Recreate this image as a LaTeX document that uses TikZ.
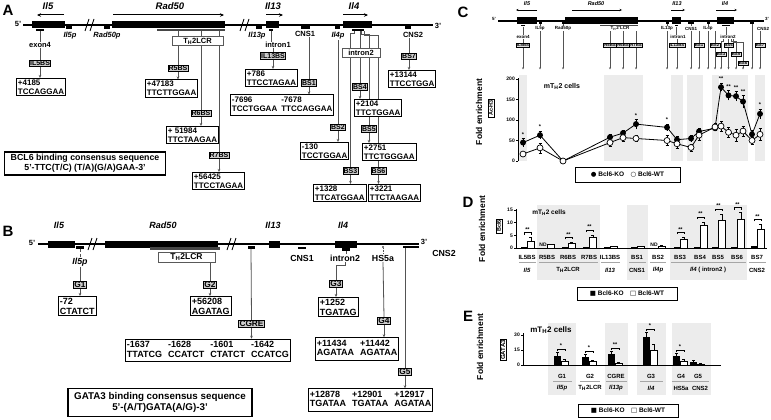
\documentclass[tikz,border=0pt]{standalone}
\usepackage{fontspec}
\setmainfont{Liberation Sans}
\newfontfamily\symfont{DejaVu Sans}
\usepackage{tikz}
\usetikzlibrary{arrows.meta,backgrounds}

\tikzset{
  panel/.style={font=\fontsize{15}{15}\selectfont\bfseries, inner sep=0pt},
  gene/.style={font=\fontsize{9.5}{10}\selectfont\bfseries\itshape, inner sep=0.5pt},
  genetiny/.style={font=\fontsize{5.5}{6}\selectfont\bfseries\itshape, inner sep=0.3pt},
  txt/.style={font=\fontsize{7.5}{8}\selectfont\bfseries, inner sep=0.5pt},
  itxt/.style={font=\fontsize{7.5}{8}\selectfont\bfseries\itshape, inner sep=0.5pt},
  btxt/.style={font=\fontsize{8.8}{9.3}\selectfont\bfseries, inner sep=0.5pt},
  ibtxt/.style={font=\fontsize{8.8}{9.3}\selectfont\bfseries\itshape, inner sep=0.5pt},
  tinytxt/.style={font=\fontsize{4.5}{5}\selectfont\bfseries, inner sep=0.4pt},
  gmark/.style={fill=black, inner sep=0pt, minimum height=2.5pt},
  gmarksm/.style={fill=black, inner sep=0pt, minimum height=1.8pt},
  site/.style={draw, fill=gray!40, line width=0.6pt, inner sep=0.8pt, font=\fontsize{7}{7.5}\selectfont\bfseries},
  siteB/.style={draw, fill=gray!40, line width=0.6pt, inner sep=0.8pt, font=\fontsize{8.3}{8.8}\selectfont\bfseries},
  smallsite/.style={draw, fill=gray!25, line width=0.4pt, inner sep=0.6pt, font=\fontsize{4.3}{4.5}\selectfont\bfseries},
  seq/.style={draw, line width=0.9pt, fill=white, align=left, anchor=west, inner sep=1.5pt, font=\fontsize{8}{8.6}\selectfont\bfseries},
  seqB/.style={draw, line width=0.9pt, fill=white, align=left, anchor=west, inner sep=1.5pt, font=\fontsize{9}{9.8}\selectfont\bfseries},
  region/.style={draw=gray!70!black, fill=white, line width=0.6pt, minimum height=9pt, inner sep=0pt, font=\fontsize{7.5}{8}\selectfont\bfseries},
  consensus/.style={draw, line width=1.6pt, align=center, inner xsep=6pt, inner ysep=2.5pt, font=\fontsize{8.8}{10}\selectfont\bfseries},
  conn/.style={draw=gray!65!black, line width=0.8pt},
  connsm/.style={draw=gray!65!black, line width=0.5pt},
  arr/.style={-{Stealth[length=3pt,width=2.6pt]}},
  arrsm/.style={-{Stealth[length=2.2pt,width=2pt]}},
  dir/.style={line width=1pt, -{Stealth[length=4pt,width=3.5pt]}},
  dirsm/.style={line width=0.6pt, -{Stealth[length=2.5pt,width=2.2pt]}},
  brk/.style={line width=0.9pt},
  band/.style={fill=gray!15},
  ylab/.style={rotate=90, font=\fontsize{8.5}{9}\selectfont\bfseries},
  abbox/.style={draw, rotate=90, line width=0.6pt, inner sep=1pt, font=\fontsize{5.5}{6}\selectfont\bfseries},
  legend/.style={draw, line width=0.8pt, minimum width=100pt, minimum height=13pt, font=\fontsize{6.5}{7}\selectfont\bfseries},
  cell/.style={font=\fontsize{7}{7}\selectfont\bfseries},
  grp/.style={font=\fontsize{6}{6.5}\selectfont\bfseries, inner sep=0.5pt},
  igrp/.style={font=\fontsize{6}{6.5}\selectfont\bfseries\itshape, inner sep=0.5pt},
  tk/.style={font=\fontsize{5}{5}\selectfont\bfseries, anchor=east, inner sep=0.5pt},
  sig/.style={font=\fontsize{5.5}{5.5}\selectfont\bfseries, inner sep=0pt},
}

\begin{document}
\begin{tikzpicture}[x=1pt,y=-1pt]
\useasboundingbox (0,0) rectangle (771,420);

% ================= A: BCL6 binding sites =================
\node[panel] (labA) at (8,10) {A};

% Draw gene names and directions
\node[gene] (gIlfiveA) at (48,6) {Il5};
\node[gene] (gRadA) at (170,6) {Rad50};
\node[gene] (gIlthirteenA) at (273,6) {Il13};
\node[gene] (gIlfourA) at (354,6) {Il4};
\draw[dir] (64,15) -- (37,15);
\draw[dir] (113,15) -- (224,15);
\draw[dir] (266,15) -- (283,15);
\draw[dir] (343,15) -- (368,15);

% Draw the locus
\node[txt] (fiveA) at (18,24) {5'};
\node[txt] (threeA) at (438,26) {3'};
\draw[line width=1.5pt] (23,25) -- (433,25);
\fill (32,21.5) rectangle (65,28.5);
\fill (112,21.5) rectangle (225,28.5);
\fill (266,21.5) rectangle (279,28.5);
\fill (343,21.5) rectangle (372,28.5);
\draw[brk] (85,31) -- (89,19) (90,31) -- (94,19);
\draw[brk] (240,31) -- (244,19) (245,31) -- (249,19);

\node[gmark, minimum width=8pt] (mExonA) at (40,30) {};
\node[gmark, minimum width=6pt] (mIlfivepA) at (69,27.5) {};
\node[gmark, minimum width=6pt] (mRadpA) at (107,27.5) {};
\node[gmark, minimum width=68pt, fill=gray!55!black] (mLcrA) at (191,30) {};
\node[gmark, minimum width=6pt] (mIlthirteenpA) at (259,27.5) {};
\node[gmark, minimum width=4pt] (mIntronOneA) at (271,30) {};
\node[gmark, minimum width=9pt] (mCnsOneA) at (305,27.5) {};
\node[gmark, minimum width=5pt] (mIlfourpA) at (337,27.5) {};
\node[gmark, minimum width=12pt] (mIntronTwoA) at (358,30) {};
\node[gmark, minimum width=6pt] (mCnsTwoA) at (408,27.5) {};

\node[itxt] (lIlfivepA) at (70,36) {Il5p};
\node[itxt] (lRadpA) at (107,36) {Rad50p};
\node[itxt] (lIlthirteenpA) at (257,36) {Il13p};
\node[txt] (lCnsOneA) at (305,34) {CNS1};
\node[itxt] (lIlfourpA) at (338,36) {Il4p};
\node[txt] (lCnsTwoA) at (413,35) {CNS2};
\node[txt] (lExonA) at (40,45) {exon4};
\node[txt] (lIntronOneA) at (278,45) {intron1};

\node[region, minimum width=51pt] (rLcrA) at (197.5,41) {T\textsubscript{H}2LCR};
\node[region, minimum width=38pt] (rIntronTwoA) at (361,52.5) {intron2};

% Draw the binding sites
\node[site] (sIlfiveBSA) at (40,63.5) {IL5BS};
\node[site] (sRfiveA) at (178,68.5) {R5BS};
\node[site] (sRsixA) at (201,113.5) {R6BS};
\node[site] (sRsevenA) at (219,155.5) {R7BS};
\node[site] (sIlthirteenBSA) at (273,56) {IL13BS};
\node[site] (sBSoneA) at (309,83) {BS1};
\node[site] (sBStwoA) at (338,127.5) {BS2};
\node[site] (sBSthreeA) at (350.5,171) {BS3};
\node[site] (sBSfourA) at (360,87) {BS4};
\node[site] (sBSfiveA) at (369,129) {BS5};
\node[site] (sBSsixA) at (378.5,171) {BS6};
\node[site] (sBSsevenA) at (409,56.5) {BS7};

\node[seq] (qIlfiveA) at (16,87) {+4185\\TCCAGGAA};
\node[seq] (qRfiveA) at (145,88.5) {+47183\\TTCTTGGAA};
\node[seq] (qRsixA) at (166,135) {+ 51984\\TTCTAAGAA};
\node[seq] (qRsevenA) at (192,181) {+56425\\TTCCTAGAA};
\node[seq] (qIlthirteenA) at (245,78) {+786\\TTCCTAGAA};
\node[seq] (qBSoneA) at (230,105) {\begin{tabular}{@{}l@{\hspace{4pt}}l@{}}-7696 & -7678\\TCCTGGAA & TTCCAGGAA\end{tabular}};
\node[seq] (qBStwoA) at (300,151) {-130\\TCCTGGAA};
\node[seq] (qBSthreeA) at (313,193) {+1328\\TTCATGGAA};
\node[seq] (qBSfourA) at (354,108) {+2104\\TTCTGGAA};
\node[seq] (qBSfiveA) at (362,152) {+2751\\TTCTGGGAA};
\node[seq] (qBSsixA) at (368,193) {+3221\\TTCTAAGAA};
\node[seq] (qBSsevenA) at (388,79) {+13144\\TTCCTGGA};

\node[consensus] (bclA) at (85,163.5) {BCL6 binding consensus sequence\\5'-TTC(T/C) (T/A)(G/A)GAA-3'};

\begin{scope}[on background layer]
\draw[conn] (mExonA.south) -- (lExonA.north);
\draw[conn] (lExonA.south) -- (sIlfiveBSA.north);
\draw[conn,arr] (sIlfiveBSA.south) -- (sIlfiveBSA.south |- qIlfiveA.north);
\draw[conn] (sRfiveA.north |- mLcrA.south) -- (sRfiveA.north);
\draw[conn,arr] (sRfiveA.south) -- (sRfiveA.south |- qRfiveA.north);
\draw[conn] (sRsixA.north |- mLcrA.south) -- (sRsixA.north);
\draw[conn,arr] (sRsixA.south) -- (sRsixA.south |- qRsixA.north);
\draw[conn] (sRsevenA.north |- mLcrA.south) -- (sRsevenA.north);
\draw[conn,arr] (sRsevenA.south) -- (sRsevenA.south |- qRsevenA.north);
\draw[conn] (mIntronOneA.south) -- (mIntronOneA.south |- lIntronOneA.north);
\draw[conn] (lIntronOneA.south -| sIlthirteenBSA) -- (sIlthirteenBSA.north);
\draw[conn,arr] (sIlthirteenBSA.south) -- (sIlthirteenBSA.south |- qIlthirteenA.north);
\draw[conn] (lCnsOneA.south -| sBSoneA) -- (sBSoneA.north);
\draw[conn,arr] (sBSoneA.south) -- (sBSoneA.south |- qBSoneA.north);
\draw[conn] (lIlfourpA.south -| sBStwoA) -- (sBStwoA.north);
\draw[conn,arr] (sBStwoA.south) -- (sBStwoA.south |- qBStwoA.north);
\draw[conn] ([xshift=-4pt]mIntronTwoA.south) -- ++(0,2) -| (sBSthreeA.north);
\draw[conn] (sBSfourA.north |- mIntronTwoA.south) -- (sBSfourA.north);
\draw[conn] ([xshift=3pt]mIntronTwoA.south) -- ++(0,3) -| (sBSfiveA.north);
\draw[conn] ([xshift=6pt]mIntronTwoA.south) -- ++(0,4) -| (sBSsixA.north);
\draw[conn,arr] (sBSthreeA.south) -- (sBSthreeA.south |- qBSthreeA.north);
\draw[conn,arr] (sBSfourA.south) -- (sBSfourA.south |- qBSfourA.north);
\draw[conn,arr] (sBSfiveA.south) -- (sBSfiveA.south |- qBSfiveA.north);
\draw[conn,arr] (sBSsixA.south) -- (sBSsixA.south |- qBSsixA.north);
\draw[conn] (lCnsTwoA.south -| sBSsevenA) -- (sBSsevenA.north);
\draw[conn,arr] (sBSsevenA.south) -- (sBSsevenA.south |- qBSsevenA.north);
\end{scope}

% ================= B: GATA3 binding sites =================
\node[panel] (labB) at (8,231) {B};

\node[gene, font=\fontsize{9}{9.5}\selectfont\bfseries\itshape] (gIlfiveB) at (59,225) {Il5};
\node[gene, font=\fontsize{9}{9.5}\selectfont\bfseries\itshape] (gRadB) at (163,225) {Rad50};
\node[gene, font=\fontsize{9}{9.5}\selectfont\bfseries\itshape] (gIlthirteenB) at (273,225) {Il13};
\node[gene, font=\fontsize{9}{9.5}\selectfont\bfseries\itshape] (gIlfourB) at (343,225) {Il4};

% Draw the locus
\node[txt] (fiveB) at (32,243) {5'};
\node[txt] (threeB) at (424,242) {3'};
\draw[line width=1.5pt] (38,244) -- (419,244);
\fill (48,240.5) rectangle (75,247.5);
\fill (105,240.5) rectangle (218,247.5);
\fill (269,240.5) rectangle (280,247.5);
\fill (335,240.5) rectangle (357,247.5);
\draw[brk] (88,250) -- (92,238) (93,250) -- (97,238);
\draw[brk] (227,250) -- (231,238) (232,250) -- (236,238);

\node[gmark, minimum width=8pt] (mIlfivepB) at (80,247.5) {};
\node[gmark, minimum width=70pt, fill=gray!55!black] (mLcrB) at (185,248.5) {};
\node[gmark, minimum width=7pt] (mCgreB) at (251,247.5) {};
\node[gmark, minimum width=8pt] (mCnsOneB) at (302,248) {};
\node[gmark, minimum width=8pt] (mIntronTwoB) at (346,249.5) {};
\node[gmark, minimum width=2pt, minimum height=2pt, fill=gray] (mHsB) at (383,246.5) {};
\node[gmark, minimum width=16pt] (mCnsTwoB) at (411,247) {};

\node[ibtxt] (lIlfivepB) at (80,262) {Il5p};
\node[btxt] (lCnsOneB) at (302,258) {CNS1};
\node[btxt] (lIntronTwoB) at (345,258) {intron2};
\node[btxt] (lHsB) at (383,258) {HS5a};
\node[btxt] (lCnsTwoB) at (444,253) {CNS2};

\node[region, minimum width=57pt, minimum height=10pt, font=\fontsize{8.5}{9}\selectfont\bfseries] (rLcrB) at (186.5,257) {T\textsubscript{H}2LCR};

% Draw the binding sites
\node[siteB] (sGoneB) at (80,285) {G1};
\node[siteB] (sGtwoB) at (210,285) {G2};
\node[siteB] (sCgreB) at (251.5,324) {CGRE};
\node[siteB] (sGthreeB) at (336,284) {G3};
\node[siteB] (sGfourB) at (384,321) {G4};
\node[siteB] (sGfiveB) at (405,372) {G5};

\node[seqB] (qGoneB) at (58,306) {-72\\CTATCT};
\node[seqB] (qGtwoB) at (190,306) {+56208\\AGATAG};
\node[seqB] (qCgreB) at (125,350.5) {\begin{tabular}{@{}l@{\hspace{6pt}}l@{\hspace{6pt}}l@{\hspace{6pt}}l@{}}-1637 & -1628 & -1601 & -1642\\TTATCG & CCATCT & CTATCT & CCATCG\end{tabular}};
\node[seqB] (qGthreeB) at (318,307) {+1252\\TGATAG};
\node[seqB] (qGfourB) at (315,349) {\begin{tabular}{@{}l@{\hspace{6pt}}l@{}}+11434 & +11442\\AGATAA & AGATAA\end{tabular}};
\node[seqB] (qGfiveB) at (308,400) {\begin{tabular}{@{}l@{\hspace{6pt}}l@{\hspace{6pt}}l@{}}+12878 & +12901 & +12917\\TGATAA & TGATAA & AGATAA\end{tabular}};

\node[consensus, font=\fontsize{9.8}{11}\selectfont\bfseries, inner ysep=4pt] (gataB) at (160,402.5) {GATA3 binding consensus sequence\\5'-(A/T)GATA(A/G)-3'};

\begin{scope}[on background layer]
\draw[conn, densely dashed] (mIlfivepB.south) -- (lIlfivepB.north);
\draw[conn] (lIlfivepB.south) -- (sGoneB.north);
\draw[conn,arr] (sGoneB.south) -- (sGoneB.south |- qGoneB.north);
\draw[conn] (sGtwoB.north |- rLcrB.south) -- (sGtwoB.north);
\draw[conn,arr] (sGtwoB.south) -- (sGtwoB.south |- qGtwoB.north);
\draw[conn] (mCgreB.south) -- (sCgreB.north);
\draw[conn,arr] (sCgreB.south) -- (sCgreB.south |- qCgreB.north);
\draw[conn] (mIntronTwoB.south) -- (mIntronTwoB.south |- lIntronTwoB.north);
\draw[conn] (lIntronTwoB.south) -- ++(0,3) -| (sGthreeB.north);
\draw[conn,arr] (sGthreeB.south) -- (sGthreeB.south |- qGthreeB.north);
\draw[conn, densely dotted] (mHsB.south) -- (lHsB.north);
\draw[conn] (lHsB.south) -- (sGfourB.north);
\draw[conn,arr] (sGfourB.south) -- (sGfourB.south |- qGfourB.north);
\draw[conn] (sGfiveB.north |- mCnsTwoB.south) -- (sGfiveB.north);
\draw[conn,arr] (sGfiveB.south) -- (sGfiveB.south |- qGfiveB.north);
\end{scope}

% ================= C: Ac-H3 ChIP =================
\node[panel] (labC) at (463,12) {C};

% Draw the shaded sites
\foreach \a/\b in {519/527, 604/643, 671/683, 687/703, 711.5/718.5, 719.5/748, 755/765}
  \fill[band] (\a,75) rectangle (\b,161);

% Draw the small locus map
\node[tinytxt] (fiveC) at (494,19) {5'};
\node[tinytxt] (threeC) at (767,19) {3'};
\draw[line width=1.1pt] (498,21) -- (764,21);
\fill (517,17.5) rectangle (537,24.5);
\fill (565,17.5) rectangle (638,24.5);
\fill (672,17.5) rectangle (681,24.5);
\fill (717,17.5) rectangle (734,24.5);
\node[genetiny] (gIlfiveC) at (527,4) {Il5};
\node[genetiny] (gRadC) at (596,4) {Rad50};
\node[genetiny] (gIlthirteenC) at (677,4) {Il13};
\node[genetiny] (gIlfourC) at (725,4) {Il4};
\draw[dirsm] (537,10) -- (516,10);
\draw[dirsm] (572,10) -- (622,10);
\draw[dirsm] (671,10) -- (685,10);
\draw[dirsm] (716,10) -- (737,10);

\node[gmarksm, minimum width=4pt] (mExonC) at (523,25.5) {};
\node[gmarksm, minimum width=3pt] (mIlfivepC) at (540,23) {};
\node[gmarksm, minimum width=3pt] (mRadpC) at (563,23) {};
\node[gmarksm, minimum width=38pt, fill=gray!55!black] (mLcrC) at (619,25.5) {};
\node[gmarksm, minimum width=3pt] (mIlthirteenpC) at (667,23) {};
\node[gmarksm, minimum width=3pt] (mIntronOneC) at (676,25.5) {};
\node[gmarksm, minimum width=6pt] (mCnsOneC) at (691,23) {};
\node[gmarksm, minimum width=3pt] (mIlfourpC) at (708,23) {};
\node[gmarksm, minimum width=8pt] (mIntronTwoC) at (726,25.5) {};
\node[gmarksm, minimum width=4pt] (mCnsTwoC) at (752,23) {};

\node[tinytxt] (lExonC) at (523,37) {exon4};
\node[tinytxt] (lIlfivepC) at (540,28.5) {IL5p};
\node[tinytxt] (lRadpC) at (563,28.5) {Rad50p};
\node[tinytxt] (lLcrC) at (620,28.5) {T\textsubscript{H}2 LCR};
\node[tinytxt] (lIlthirteenpC) at (667,28.5) {IL13p};
\node[tinytxt] (lIntronOneC) at (678,37) {intron1};
\node[tinytxt] (lCnsOneC) at (691,28.5) {CNS1};
\node[tinytxt] (lIlfourpC) at (708,28.5) {IL4p};
\node[tinytxt] (lIntronTwoC) at (728,37) {intron2};
\node[tinytxt] (lCnsTwoC) at (763,28.5) {CNS2};

\node[smallsite] (sIlfiveBSC) at (523,45) {IL5BS};
\node[smallsite] (sRfiveC) at (610,45) {R5BS};
\node[smallsite] (sRsixC) at (623,45) {R6BS};
\node[smallsite] (sRsevenC) at (636,45) {R7BS};
\node[smallsite] (sIlthirteenBSC) at (677,45) {IL13BS};
\node[smallsite] (sBSoneC) at (699,45) {BS1};
\node[smallsite] (sBStwoC) at (715,45) {BS2};
\node[smallsite] (sBSfourC) at (728.5,45) {BS4};
\node[smallsite] (sBSsevenC) at (760,45) {BS7};
\node[smallsite] (sBSthreeC) at (721,54.5) {BS3};
\node[smallsite] (sBSfiveC) at (736,54.5) {BS5};
\node[smallsite] (sBSsixC) at (743,63) {BS6};

\coordinate (topC) at (520,69.5);
\begin{scope}[on background layer]
\draw[connsm] (mExonC.south) -- (lExonC.north);
\draw[connsm] (lExonC.south) -- (sIlfiveBSC.north);
\draw[connsm,arrsm] (sIlfiveBSC.south) -- (sIlfiveBSC.south |- topC);
\draw[connsm] (mIlfivepC.south) -- (lIlfivepC.north);
\draw[connsm,arrsm] (lIlfivepC.south) -- (lIlfivepC.south |- topC);
\draw[connsm] (mRadpC.south) -- (lRadpC.north);
\draw[connsm,arrsm] (lRadpC.south) -- (lRadpC.south |- topC);
\draw[connsm] (mLcrC.south) -- (lLcrC.north);
\draw[connsm] (sRfiveC.north |- lLcrC.south) -- (sRfiveC.north);
\draw[connsm] (sRsixC.north |- lLcrC.south) -- (sRsixC.north);
\draw[connsm] (sRsevenC.north |- lLcrC.south) -- (sRsevenC.north);
\draw[connsm,arrsm] (sRfiveC.south) -- (sRfiveC.south |- topC);
\draw[connsm,arrsm] (sRsixC.south) -- (sRsixC.south |- topC);
\draw[connsm,arrsm] (sRsevenC.south) -- (sRsevenC.south |- topC);
\draw[connsm] (mIlthirteenpC.south) -- (lIlthirteenpC.north);
\draw[connsm,arrsm] (lIlthirteenpC.south) -- (lIlthirteenpC.south |- topC);
\draw[connsm] (mIntronOneC.south) -- (mIntronOneC.south |- lIntronOneC.north);
\draw[connsm] (lIntronOneC.south -| sIlthirteenBSC) -- (sIlthirteenBSC.north);
\draw[connsm,arrsm] (sIlthirteenBSC.south) -- (sIlthirteenBSC.south |- topC);
\draw[connsm] (mCnsOneC.south) -- (lCnsOneC.north);
\draw[connsm,arrsm] (lCnsOneC.south) -- (lCnsOneC.south |- topC);
\draw[connsm] (lCnsOneC.south -| sBSoneC) -- (sBSoneC.north);
\draw[connsm,arrsm] (sBSoneC.south) -- (sBSoneC.south |- topC);
\draw[connsm] (mIlfourpC.south) -- (lIlfourpC.north);
\draw[connsm,arrsm] (lIlfourpC.south) -- (lIlfourpC.south |- topC);
\draw[connsm] (lIlfourpC.south -| sBStwoC) -- (sBStwoC.north);
\draw[connsm,arrsm] (sBStwoC.south) -- (sBStwoC.south |- topC);
\draw[connsm] (mIntronTwoC.south) -- (mIntronTwoC.south |- lIntronTwoC.north);
\draw[connsm] ([xshift=-5pt]lIntronTwoC.south) -- ++(0,1.5) -| (sBSthreeC.north);
\draw[connsm] (sBSfourC.north |- lIntronTwoC.south) -- (sBSfourC.north);
\draw[connsm] ([xshift=3pt]lIntronTwoC.south) -- ++(0,1.5) -| (sBSfiveC.north);
\draw[connsm] ([xshift=5pt]lIntronTwoC.south) -- ++(0,2.5) -| (sBSsixC.north);
\draw[connsm,arrsm] (sBSthreeC.south) -- (sBSthreeC.south |- topC);
\draw[connsm,arrsm] (sBSfourC.south) -- (sBSfourC.south |- topC);
\draw[connsm,arrsm] (sBSfiveC.south) -- (sBSfiveC.south |- topC);
\draw[connsm,arrsm] (sBSsixC.south) -- (sBSsixC.south |- topC);
\draw[connsm,arrsm] (mCnsTwoC.south) -- (mCnsTwoC.south |- topC);
\draw[connsm] (lCnsTwoC.south -| sBSsevenC) -- (sBSsevenC.north);
\draw[connsm,arrsm] (sBSsevenC.south) -- (sBSsevenC.south |- topC);
\end{scope}

% Draw the axis
\draw[line width=0.6pt] (518,161) -- (518,78);
\foreach \v [count=\i] in {0,50,100,150,200}{
  \draw[line width=0.6pt] (518,{161-0.41*\v}) -- (516,{161-0.41*\v});
  \node[tk] (tkC\i) at (515.5,{161-0.41*\v}) {\v};
}
\node[ylab] (ylabC) at (479,112) {Fold enrichment};
\node[abbox] (abC) at (491,108) {Ac-H3};
\node[cell] (cellC) at (562,86) {mT\textsubscript{H}2 cells};

% Draw the two series
\draw[line width=0.8pt] plot coordinates {(523,142.6) (540,135.2) (563,161) (610,137.2) (623,133.1) (636,124.1) (667,127.4) (677,139.7) (691,138.5) (699,131.5) (715,128.2) (721,87.2) (728.5,95.4) (736,96.2) (743,101.6) (752,134.4) (760,113.9)};
\draw[line width=0.8pt] plot coordinates {(523,154) (540,147.9) (563,161) (610,142.6) (623,137.6) (636,138.5) (667,140.5) (677,143.8) (691,147.5) (699,135.2) (715,127) (721,126.2) (728.5,132.3) (736,135.2) (743,131.1) (752,140.5) (760,134.4)};
\foreach \x/\k/\w/\ek/\ew in {523/45/17/10/5, 540/63/32/10/12, 563/0/0/0/0, 610/58/45/8/10, 623/68/57/8/8, 636/90/55/12/8, 667/82/50/8/12, 677/52/42/8/10, 691/55/33/8/8, 699/72/63/8/12, 715/80/83/8/8, 721/180/85/10/12, 728.5/160/70/12/12, 736/158/63/12/15, 743/145/73/15/12, 752/65/50/10/8, 760/115/65/12/15}{
  \draw[line width=0.5pt] (\x,{161-0.41*(\k-\ek)}) -- (\x,{161-0.41*(\k+\ek)});
  \draw[line width=0.5pt] (\x-1.5,{161-0.41*(\k+\ek)}) -- (\x+1.5,{161-0.41*(\k+\ek)});
  \draw[line width=0.5pt] (\x,{161-0.41*(\w-\ew)}) -- (\x,{161-0.41*(\w+\ew)});
  \draw[line width=0.5pt] (\x-1.5,{161-0.41*(\w+\ew)}) -- (\x+1.5,{161-0.41*(\w+\ew)});
  \draw[line width=0.5pt] (\x-1.5,{161-0.41*(\w-\ew)}) -- (\x+1.5,{161-0.41*(\w-\ew)});
  \fill (\x,{161-0.41*\k}) circle (3pt);
  \draw[line width=0.7pt, fill=white] (\x,{161-0.41*\w}) circle (3pt);
}
\foreach \x/\v/\s [count=\i] in {523/55/*, 540/73/*, 636/102/*, 667/90/*, 721/190/**, 728.5/172/**, 736/170/**, 743/160/**, 760/127/*}
  \node[sig] (sgC\i) at (\x,{161-0.41*\v-4}) {\s};

\node[legend, minimum width=105pt, minimum height=15pt] (legC) at (627.5,174.5) {{\symfont ●}~Bcl6-KO\quad{\symfont ○}~Bcl6-WT};

% ================= D: Bcl6 ChIP =================
\node[panel] (labD) at (468,202) {D};
\foreach \a/\b in {537/600, 627/648, 670/747}
  \fill[band] (\a,205) rectangle (\b,280);

% Draw the axes
\draw[line width=0.6pt] (516,248) -- (516,209);
\draw[line width=0.6pt] (516,248) -- (767,248);
\foreach \v [count=\i] in {0,5,10,15}{
  \draw[line width=0.6pt] (516,{248-2.53*\v}) -- (514,{248-2.53*\v});
  \node[tk] (tkD\i) at (513.5,{248-2.53*\v}) {\v};
}
\node[ylab] (ylabD) at (482,229) {Fold enrichment};
\node[abbox] (abD) at (499,226) {Bcl6};
\node[cell, font=\fontsize{6.5}{6.5}\selectfont\bfseries] (cellD) at (549,213) {mT\textsubscript{H}2 cells};

% Draw the bars
\foreach \c/\ko/\wt/\e in {527/0.3/2.8/1.3, 547/0/1.3/0.2, 568/0.3/1.8/0.4, 589/0.3/4.3/0.8, 610/0.4/0.7/0.1, 637/0.4/0.7/0.1, 658/0/0.8/0.1, 680/0.4/3.5/0.8, 700/0.5/9/1.3, 718/0.4/11/2.5, 737/0.5/11.5/2.5, 757/0.6/7.5/1.8}{
  \fill (\c-6,248) rectangle (\c,{248-2.53*\ko});
  \draw[line width=0.6pt, fill=white] (\c+0.5,248) rectangle (\c+7,{248-2.53*\wt});
  \draw[line width=0.5pt] (\c+3.75,{248-2.53*\wt}) -- (\c+3.75,{248-2.53*(\wt+\e)}) ++(-1.5,0) -- ++(3,0);
}
\foreach \c/\t [count=\i] in {527/4.1, 568/2.2, 589/5.1, 680/4.3, 700/10.3, 718/13.5, 737/14, 757/9.3}{
  \draw[line width=0.5pt] (\c-3,{248-2.53*\t-3}) -- (\c-3,{248-2.53*\t-5}) -- (\c+3.75,{248-2.53*\t-5}) -- (\c+3.75,{248-2.53*\t-3});
  \node[sig] (sgD\i) at (\c+0.4,{248-2.53*\t-8}) {**};
}
\node[tinytxt, font=\fontsize{5}{5}\selectfont\bfseries] (ndRfive) at (543,244.5) {ND};
\node[tinytxt, font=\fontsize{5}{5}\selectfont\bfseries] (ndBStwo) at (654,244.5) {ND};

% Draw the site names
\foreach \c/\t [count=\i] in {527/IL5BS, 547/R5BS, 568/R6BS, 589/R7BS, 610/IL13BS, 637/BS1, 658/BS2, 680/BS3, 700/BS4, 718/BS5, 737/BS6, 757/BS7}
  \node[grp] (xD\i) at (\c,257) {\t};
\foreach \a/\b in {519/536, 539/598, 601/620, 629/646, 650/666, 671/746, 749/766}
  \draw[line width=0.5pt, gray!70] (\a,262.5) -- (\b,262.5);
\node[igrp] (rIlfiveD) at (527,270) {Il5};
\node[grp] (rLcrD) at (568,270) {T\textsubscript{H}2LCR};
\node[igrp] (rIlthirteenD) at (610,270) {Il13};
\node[grp] (rCnsOneD) at (637,270) {CNS1};
\node[igrp] (rIlfourpD) at (658,270) {Il4p};
\node[grp] (rIntronD) at (708,270) {\textit{Il4} ( intron2 )};
\node[grp] (rCnsTwoD) at (757,270) {CNS2};

\node[legend] (legD) at (627,293.5) {{\symfont ■}~Bcl6-KO\quad{\symfont □}~Bcl6-WT};

% ================= E: GATA3 ChIP =================
\node[panel] (labE) at (468,316) {E};
\foreach \a/\b in {548/576, 605/628, 637/666, 672/711}
  \fill[band] (\a,323) rectangle (\b,395);

% Draw the axes
\draw[line width=0.6pt] (523,365) -- (523,333);
\draw[line width=0.6pt] (523,365) -- (721,365);
\foreach \v [count=\i] in {0,15,30}{
  \draw[line width=0.6pt] (523,365-\v) -- (521,365-\v);
  \node[tk] (tkE\i) at (520.5,365-\v) {\v};
}
\node[ylab] (ylabE) at (480,347) {Fold enrichment};
\node[abbox, font=\fontsize{6}{6.5}\selectfont\bfseries] (abE) at (503,350) {GATA3};
\node[cell, font=\fontsize{8}{8}\selectfont\bfseries] (cellE) at (551,330) {mT\textsubscript{H}2 cells};

% Draw the bars
\foreach \c/\ko/\ek/\wt/\ew in {562/9/4/4/2, 590/8/3/3.5/1, 616/11/3/2/1, 651/28/5/15/6, 681/9/3/4/2, 698/3/2/1/0.5}{
  \fill (\c-8,365) rectangle (\c-1,365-\ko);
  \draw[line width=0.5pt] (\c-4.5,365-\ko) -- (\c-4.5,{365-\ko-\ek}) ++(-1.5,0) -- ++(3,0);
  \draw[line width=0.6pt, fill=white] (\c-0.5,365) rectangle (\c+6,365-\wt);
  \draw[line width=0.5pt] (\c+2.75,365-\wt) -- (\c+2.75,{365-\wt-\ew}) ++(-1.5,0) -- ++(3,0);
}
\foreach \c/\t/\s [count=\i] in {562/13/*, 590/11/*, 616/14/**, 651/33/*, 681/12/*}{
  \draw[line width=0.5pt] (\c-4.5,{365-\t-1}) -- (\c-4.5,{365-\t-3}) -- (\c+2.75,{365-\t-3}) -- (\c+2.75,{365-\t-1});
  \node[sig] (sgE\i) at (\c-1,{365-\t-6.5}) {\s};
}

% Draw the site names
\foreach \c/\t [count=\i] in {562/G1, 590/G2, 616/CGRE, 651/G3, 681/G4, 698/G5}
  \node[grp] (xE\i) at (\c,376) {\t};
\foreach \a/\b in {553/572, 580/600, 606/627, 640/663, 672/709}
  \draw[line width=0.5pt, gray!70] (\a,381.5) -- (\b,381.5);
\node[igrp] (rIlfivepE) at (562,388) {Il5p};
\node[grp] (rLcrE) at (590,388) {T\textsubscript{H}2LCR};
\node[igrp] (rIlthirteenpE) at (616,388) {Il13p};
\node[igrp] (rIlfourE) at (651,388) {Il4};
\node[grp] (rHsE) at (681,388) {HS5a};
\node[grp] (rCnsTwoE) at (700,388) {CNS2};

\node[legend] (legE) at (628,411) {{\symfont ■}~Bcl6-KO\quad{\symfont □}~Bcl6-WT};

\end{tikzpicture}
\end{document}
